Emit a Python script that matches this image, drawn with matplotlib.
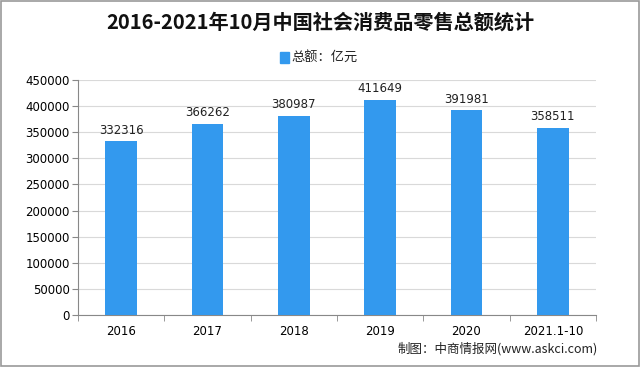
import matplotlib
matplotlib.use('Agg')
from matplotlib import pyplot as plt
from matplotlib.patches import Rectangle
import numpy as np

# data
categories = ['2016', '2017', '2018', '2019', '2020', '2021.1-10']
values = [332316, 366262, 380987, 411649, 391981, 358511]
yticks = np.arange(0, 450001, 50000)

plt.rcParams['font.family'] = ['Noto Sans CJK SC', 'DejaVu Sans']

fig = plt.figure(figsize=(6.4, 3.67), dpi=100)
ax = fig.add_axes([78/640, 1 - 315/367, (596-78)/640, (315-80)/367])

bar_color = '#3399EE'
x = np.arange(len(categories))
ax.bar(x, values, width=0.37, color=bar_color, zorder=3)

# value labels above bars
for xi, v in zip(x, values):
    ax.text(xi, v + 9000, str(v), ha='center', va='bottom', fontsize=8.5,
            color='#222222', family='DejaVu Sans', zorder=4)

ax.set_xlim(-0.5, len(categories) - 0.5)
ax.set_ylim(0, 450000)
ax.set_yticks(yticks)
ax.set_yticklabels([str(t) for t in yticks], fontsize=8.5, family='DejaVu Sans')
ax.set_xticks(x)
ax.set_xticklabels(categories, fontsize=8.5, family='DejaVu Sans')
ax.set_xticks(np.arange(-0.5, len(categories)), minor=True)
ax.tick_params(axis='x', which='major', length=0, pad=7)
ax.tick_params(axis='x', which='minor', length=4, color='#888888', direction='out')
ax.tick_params(axis='y', length=4, color='#888888', direction='out', pad=2)

ax.grid(axis='y', color='#d9d9d9', linewidth=0.8, zorder=0)
for s in ['top', 'right']:
    ax.spines[s].set_visible(False)
for s in ['left', 'bottom']:
    ax.spines[s].set_color('#888888')

fig.text(0.5, 1 - 22/367, '2016-2021年10月中国社会消费品零售总额统计', ha='center', va='center',
         fontsize=14.5, fontweight='bold', color='#111111')

# legend
fig.patches.append(Rectangle((280/640, 1 - 63/367), 9/640, 11/367, transform=fig.transFigure,
                             color=bar_color))
fig.text(291/640, 1 - 57/367, '总额：亿元', ha='left', va='center', fontsize=9.5, color='#222222')

fig.text(598/640, 1 - 349/367, '制图：中商情报网(www.askci.com)', ha='right', va='center',
         fontsize=9, color='#222222')

# outer border
fig.patches.append(Rectangle((0.002, 0.003), 0.996, 0.994, transform=fig.transFigure,
                             fill=False, edgecolor='#999999', linewidth=1.2))

fig.savefig('out.png', dpi=100)
